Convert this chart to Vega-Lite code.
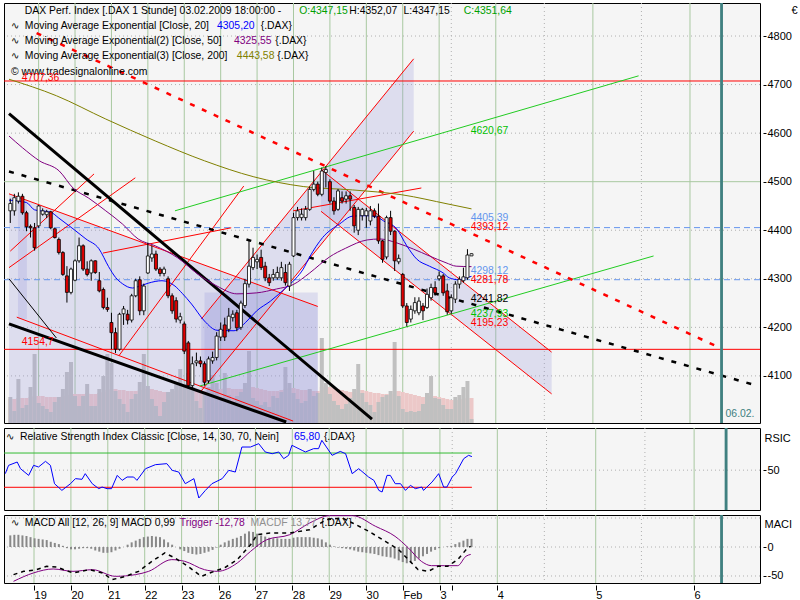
{
"$schema":"https://vega.github.io/schema/vega-lite/v6.json",
"background":"#ffffff",
"padding":{"left":2,"top":2,"right":0,"bottom":0},
"spacing":3,
"config":{
 "view":{"fill":"#f5f5f5","stroke":"#000000","strokeWidth":1},
 "font":"Liberation Sans"
},
"datasets":{
"c":[
{"x":0,"o":4440,"h":4465,"l":4415,"c":4455,"v":26,"a":24,"m":20},
{"x":1,"o":4440,"h":4475,"l":4430,"c":4467,"v":12,"a":24,"m":21},
{"x":2,"o":4460,"h":4478,"l":4455,"c":4470,"v":44,"a":25,"m":21},
{"x":3,"o":4470,"h":4475,"l":4432,"c":4436,"v":15,"a":25,"m":20},
{"x":4,"o":4436,"h":4440,"l":4398,"c":4407,"v":18,"a":25,"m":19},
{"x":5,"o":4408,"h":4412,"l":4385,"c":4405,"v":36,"a":26,"m":17},
{"x":6,"o":4405,"h":4415,"l":4358,"c":4364,"v":69,"a":27,"m":15},
{"x":7,"o":4409,"h":4452,"l":4405,"c":4450,"v":20,"a":27,"m":14},
{"x":8,"o":4433,"h":4445,"l":4430,"c":4440,"v":17,"a":27,"m":13},
{"x":9,"o":4432,"h":4442,"l":4425,"c":4438,"v":14,"a":26,"m":12},
{"x":10,"o":4438,"h":4440,"l":4402,"c":4405,"v":11,"a":26,"m":9},
{"x":11,"o":4403,"h":4405,"l":4383,"c":4385,"v":21,"a":26,"m":7},
{"x":12,"o":4381,"h":4385,"l":4350,"c":4354,"v":26,"a":26,"m":5},
{"x":13,"o":4354,"h":4357,"l":4306,"c":4309,"v":34,"a":27,"m":2},
{"x":14,"o":4306,"h":4326,"l":4251,"c":4272,"v":51,"a":28,"m":-2},
{"x":15,"o":4272,"h":4323,"l":4268,"c":4320,"v":61,"a":29,"m":-4},
{"x":16,"o":4297,"h":4340,"l":4295,"c":4337,"v":27,"a":29,"m":-4},
{"x":17,"o":4337,"h":4385,"l":4333,"c":4368,"v":17,"a":29,"m":-3},
{"x":18,"o":4368,"h":4371,"l":4316,"c":4320,"v":27,"a":29,"m":-2},
{"x":19,"o":4320,"h":4336,"l":4305,"c":4309,"v":39,"a":30,"m":-2},
{"x":20,"o":4312,"h":4340,"l":4296,"c":4337,"v":17,"a":29,"m":-3},
{"x":21,"o":4337,"h":4338,"l":4310,"c":4313,"v":17,"a":29,"m":-6},
{"x":22,"o":4296,"h":4314,"l":4272,"c":4275,"v":34,"a":30,"m":-8},
{"x":23,"o":4278,"h":4282,"l":4237,"c":4241,"v":47,"a":31,"m":-10},
{"x":24,"o":4241,"h":4261,"l":4232,"c":4237,"v":69,"a":33,"m":-10},
{"x":25,"o":4210,"h":4230,"l":4155,"c":4189,"v":60,"a":34,"m":-9},
{"x":26,"o":4189,"h":4199,"l":4147,"c":4155,"v":32,"a":34,"m":-6},
{"x":27,"o":4155,"h":4230,"l":4152,"c":4227,"v":24,"a":33,"m":-3},
{"x":28,"o":4228,"h":4244,"l":4205,"c":4238,"v":19,"a":33,"m":0},
{"x":29,"o":4227,"h":4236,"l":4206,"c":4215,"v":11,"a":32,"m":4},
{"x":30,"o":4215,"h":4269,"l":4210,"c":4265,"v":24,"a":32,"m":8},
{"x":31,"o":4265,"h":4300,"l":4262,"c":4296,"v":29,"a":32,"m":11},
{"x":32,"o":4298,"h":4305,"l":4225,"c":4234,"v":41,"a":33,"m":14},
{"x":33,"o":4234,"h":4290,"l":4225,"c":4285,"v":69,"a":34,"m":17},
{"x":34,"o":4312,"h":4374,"l":4310,"c":4347,"v":37,"a":34,"m":18},
{"x":35,"o":4343,"h":4369,"l":4335,"c":4351,"v":24,"a":34,"m":19},
{"x":36,"o":4351,"h":4358,"l":4316,"c":4320,"v":17,"a":33,"m":18},
{"x":37,"o":4320,"h":4324,"l":4305,"c":4311,"v":7,"a":32,"m":17},
{"x":38,"o":4311,"h":4325,"l":4305,"c":4320,"v":21,"a":31,"m":13},
{"x":39,"o":4300,"h":4305,"l":4260,"c":4265,"v":31,"a":31,"m":8},
{"x":40,"o":4265,"h":4270,"l":4228,"c":4234,"v":34,"a":31,"m":4},
{"x":41,"o":4255,"h":4262,"l":4210,"c":4217,"v":39,"a":32,"m":0},
{"x":42,"o":4215,"h":4230,"l":4208,"c":4222,"v":54,"a":33,"m":-4},
{"x":43,"o":4207,"h":4212,"l":4145,"c":4151,"v":39,"a":33,"m":-7},
{"x":44,"o":4168,"h":4172,"l":4074,"c":4080,"v":50,"a":34,"m":-10},
{"x":45,"o":4080,"h":4140,"l":4075,"c":4125,"v":36,"a":34,"m":-12},
{"x":46,"o":4127,"h":4148,"l":4120,"c":4131,"v":22,"a":33,"m":-13},
{"x":47,"o":4131,"h":4140,"l":4118,"c":4125,"v":15,"a":33,"m":-12},
{"x":48,"o":4125,"h":4130,"l":4080,"c":4087,"v":30,"a":32,"m":-10},
{"x":49,"o":4090,"h":4140,"l":4085,"c":4135,"v":36,"a":33,"m":-8},
{"x":50,"o":4131,"h":4150,"l":4125,"c":4138,"v":48,"a":33,"m":-5},
{"x":51,"o":4138,"h":4190,"l":4132,"c":4182,"v":40,"a":34,"m":-1},
{"x":52,"o":4180,"h":4210,"l":4172,"c":4196,"v":25,"a":34,"m":4},
{"x":53,"o":4205,"h":4220,"l":4172,"c":4180,"v":50,"a":35,"m":8},
{"x":54,"o":4196,"h":4240,"l":4190,"c":4223,"v":28,"a":35,"m":11},
{"x":55,"o":4220,"h":4235,"l":4212,"c":4227,"v":20,"a":34,"m":14},
{"x":56,"o":4230,"h":4236,"l":4192,"c":4199,"v":27,"a":34,"m":16},
{"x":57,"o":4200,"h":4255,"l":4195,"c":4250,"v":31,"a":34,"m":19},
{"x":58,"o":4245,"h":4300,"l":4240,"c":4290,"v":40,"a":35,"m":23},
{"x":59,"o":4289,"h":4378,"l":4282,"c":4326,"v":72,"a":37,"m":27},
{"x":60,"o":4323,"h":4364,"l":4318,"c":4344,"v":25,"a":36,"m":26},
{"x":61,"o":4335,"h":4350,"l":4320,"c":4340,"v":22,"a":35,"m":23},
{"x":62,"o":4344,"h":4360,"l":4318,"c":4323,"v":18,"a":34,"m":20},
{"x":63,"o":4326,"h":4335,"l":4295,"c":4302,"v":21,"a":33,"m":18},
{"x":64,"o":4302,"h":4310,"l":4285,"c":4292,"v":16,"a":32,"m":16},
{"x":65,"o":4302,"h":4320,"l":4296,"c":4309,"v":27,"a":32,"m":15},
{"x":66,"o":4302,"h":4325,"l":4298,"c":4313,"v":25,"a":32,"m":15},
{"x":67,"o":4302,"h":4335,"l":4296,"c":4323,"v":31,"a":33,"m":14},
{"x":68,"o":4313,"h":4330,"l":4286,"c":4292,"v":56,"a":34,"m":14},
{"x":69,"o":4285,"h":4335,"l":4275,"c":4330,"v":40,"a":35,"m":14},
{"x":70,"o":4347,"h":4436,"l":4345,"c":4426,"v":30,"a":35,"m":16},
{"x":71,"o":4426,"h":4448,"l":4420,"c":4440,"v":24,"a":34,"m":17},
{"x":72,"o":4426,"h":4445,"l":4420,"c":4433,"v":20,"a":33,"m":17},
{"x":73,"o":4426,"h":4450,"l":4420,"c":4443,"v":22,"a":33,"m":17},
{"x":74,"o":4443,"h":4490,"l":4440,"c":4484,"v":34,"a":33,"m":17},
{"x":75,"o":4484,"h":4522,"l":4480,"c":4495,"v":27,"a":32,"m":16},
{"x":76,"o":4495,"h":4500,"l":4470,"c":4474,"v":30,"a":32,"m":15},
{"x":77,"o":4474,"h":4529,"l":4470,"c":4522,"v":85,"a":36,"m":13},
{"x":78,"o":4519,"h":4532,"l":4488,"c":4525,"v":40,"a":37,"m":8},
{"x":79,"o":4500,"h":4505,"l":4455,"c":4460,"v":29,"a":36,"m":4},
{"x":80,"o":4460,"h":4468,"l":4432,"c":4440,"v":22,"a":35,"m":1},
{"x":81,"o":4443,"h":4485,"l":4440,"c":4481,"v":18,"a":34,"m":-1},
{"x":82,"o":4467,"h":4480,"l":4455,"c":4460,"v":14,"a":33,"m":-2},
{"x":83,"o":4464,"h":4480,"l":4455,"c":4471,"v":19,"a":32,"m":-3},
{"x":84,"o":4471,"h":4480,"l":4440,"c":4464,"v":25,"a":31,"m":-4},
{"x":85,"o":4447,"h":4452,"l":4395,"c":4409,"v":34,"a":31,"m":-6},
{"x":86,"o":4400,"h":4448,"l":4390,"c":4443,"v":59,"a":33,"m":-8},
{"x":87,"o":4430,"h":4446,"l":4420,"c":4443,"v":30,"a":33,"m":-9},
{"x":88,"o":4430,"h":4446,"l":4405,"c":4440,"v":21,"a":32,"m":-10},
{"x":89,"o":4419,"h":4450,"l":4410,"c":4440,"v":18,"a":31,"m":-11},
{"x":90,"o":4440,"h":4445,"l":4425,"c":4429,"v":11,"a":30,"m":-12},
{"x":91,"o":4429,"h":4455,"l":4372,"c":4378,"v":21,"a":30,"m":-14},
{"x":92,"o":4378,"h":4380,"l":4333,"c":4340,"v":26,"a":29,"m":-16},
{"x":93,"o":4345,"h":4430,"l":4340,"c":4426,"v":28,"a":29,"m":-17},
{"x":94,"o":4426,"h":4440,"l":4390,"c":4398,"v":32,"a":29,"m":-18},
{"x":95,"o":4398,"h":4400,"l":4316,"c":4337,"v":81,"a":32,"m":-20},
{"x":96,"o":4335,"h":4350,"l":4330,"c":4342,"v":27,"a":32,"m":-23},
{"x":97,"o":4309,"h":4312,"l":4240,"c":4244,"v":14,"a":31,"m":-26},
{"x":98,"o":4244,"h":4250,"l":4202,"c":4210,"v":11,"a":30,"m":-28},
{"x":99,"o":4217,"h":4245,"l":4210,"c":4237,"v":12,"a":29,"m":-27},
{"x":100,"o":4234,"h":4262,"l":4228,"c":4251,"v":11,"a":28,"m":-24},
{"x":101,"o":4230,"h":4262,"l":4225,"c":4254,"v":12,"a":27,"m":-20},
{"x":102,"o":4244,"h":4250,"l":4215,"c":4234,"v":19,"a":26,"m":-16},
{"x":103,"o":4241,"h":4280,"l":4238,"c":4268,"v":30,"a":26,"m":-12},
{"x":104,"o":4261,"h":4290,"l":4255,"c":4282,"v":47,"a":27,"m":-8},
{"x":105,"o":4282,"h":4295,"l":4265,"c":4271,"v":25,"a":27,"m":-5},
{"x":106,"o":4300,"h":4315,"l":4296,"c":4306,"v":24,"a":26,"m":-2},
{"x":107,"o":4306,"h":4310,"l":4265,"c":4271,"v":18,"a":25,"m":0},
{"x":108,"o":4275,"h":4290,"l":4226,"c":4232,"v":14,"a":24,"m":1},
{"x":109,"o":4234,"h":4268,"l":4228,"c":4261,"v":14,"a":23,"m":2},
{"x":110,"o":4258,"h":4295,"l":4250,"c":4289,"v":26,"a":23,"m":5},
{"x":111,"o":4289,"h":4305,"l":4280,"c":4299,"v":28,"a":23,"m":8},
{"x":112,"o":4296,"h":4323,"l":4292,"c":4304,"v":36,"a":24,"m":11},
{"x":113,"o":4302,"h":4361,"l":4298,"c":4349,"v":42,"a":25,"m":14},
{"x":114,"o":4347.15,"h":4352.07,"l":4347.15,"c":4351.64,"v":4,"a":25,"m":14}
],
"ema":[
{"s":"e20","x":-0.32,"p":4462},{"s":"e20","x":4,"p":4457},{"s":"e20","x":6,"p":4442},{"s":"e20","x":10,"p":4437},{"s":"e20","x":12,"p":4425},{"s":"e20","x":15.5,"p":4403},{"s":"e20","x":18.7,"p":4382},{"s":"e20","x":21.9,"p":4362},{"s":"e20","x":24.3,"p":4325},{"s":"e20","x":26,"p":4303},{"s":"e20","x":27.7,"p":4290},{"s":"e20","x":30.2,"p":4281},{"s":"e20","x":32,"p":4285},{"s":"e20","x":34.1,"p":4291},{"s":"e20","x":37.5,"p":4296},{"s":"e20","x":40.7,"p":4285},{"s":"e20","x":42.5,"p":4270},{"s":"e20","x":44.8,"p":4248},{"s":"e20","x":48,"p":4213},{"s":"e20","x":51.1,"p":4194},{"s":"e20","x":55.3,"p":4193},{"s":"e20","x":58.5,"p":4213},{"s":"e20","x":60.9,"p":4234},{"s":"e20","x":64.3,"p":4254},{"s":"e20","x":68.2,"p":4282},{"s":"e20","x":70.5,"p":4300},{"s":"e20","x":72.4,"p":4320},{"s":"e20","x":74,"p":4345},{"s":"e20","x":77.2,"p":4385},{"s":"e20","x":81.4,"p":4413},{"s":"e20","x":84.6,"p":4429},{"s":"e20","x":88,"p":4430},{"s":"e20","x":90.7,"p":4427},{"s":"e20","x":92.3,"p":4419},{"s":"e20","x":95.5,"p":4403},{"s":"e20","x":98,"p":4368},{"s":"e20","x":100.4,"p":4341},{"s":"e20","x":103.6,"p":4326},{"s":"e20","x":107,"p":4312},{"s":"e20","x":108.5,"p":4302},{"s":"e20","x":110.9,"p":4298},{"s":"e20","x":112.6,"p":4302},{"s":"e20","x":114,"p":4305},
{"s":"e50","x":-0.32,"p":4594},{"s":"e50","x":3,"p":4570},{"s":"e50","x":7.2,"p":4543},{"s":"e50","x":12.1,"p":4522},{"s":"e50","x":15.5,"p":4487},{"s":"e50","x":19.4,"p":4466},{"s":"e50","x":23.6,"p":4440},{"s":"e50","x":27.7,"p":4413},{"s":"e50","x":31.6,"p":4382},{"s":"e50","x":35.8,"p":4368},{"s":"e50","x":41.4,"p":4343},{"s":"e50","x":46.3,"p":4310},{"s":"e50","x":51.1,"p":4285},{"s":"e50","x":56,"p":4269},{"s":"e50","x":60.9,"p":4271},{"s":"e50","x":65.8,"p":4279},{"s":"e50","x":69.9,"p":4288},{"s":"e50","x":74,"p":4312},{"s":"e50","x":78.9,"p":4345},{"s":"e50","x":82.9,"p":4363},{"s":"e50","x":88.2,"p":4380},{"s":"e50","x":91.4,"p":4382},{"s":"e50","x":95.5,"p":4374},{"s":"e50","x":99.7,"p":4361},{"s":"e50","x":103.6,"p":4347},{"s":"e50","x":107.7,"p":4333},{"s":"e50","x":110.2,"p":4326},{"s":"e50","x":114,"p":4325},
{"s":"e200","x":-0.32,"p":4711},{"s":"e200","x":11.4,"p":4677},{"s":"e200","x":23.6,"p":4629},{"s":"e200","x":35.8,"p":4584},{"s":"e200","x":48,"p":4543},{"s":"e200","x":60.2,"p":4510},{"s":"e200","x":72.4,"p":4490},{"s":"e200","x":84.6,"p":4483},{"s":"e200","x":96.8,"p":4473},{"s":"e200","x":108.2,"p":4454},{"s":"e200","x":114,"p":4444}
],
"tl":[
{"id":"R1","k":"r","x":-0.32,"p":4475},{"id":"R1","k":"r","x":76,"p":4243},
{"id":"R2","k":"r","x":1.6,"p":4221},{"id":"R2","k":"r","x":69.9,"p":4007},
{"id":"R3","k":"r","x":-0.32,"p":4323},{"id":"R3","k":"r","x":30.9,"p":4508},
{"id":"R4","k":"r","x":0,"p":4357},{"id":"R4","k":"r","x":20.7,"p":4516},
{"id":"R5","k":"r","x":26.8,"p":4141},{"id":"R5","k":"r","x":57.7,"p":4491},
{"id":"R6","k":"r","x":22.9,"p":4353},{"id":"R6","k":"r","x":54.6,"p":4405},
{"id":"U1","k":"r","x":47.2,"p":4217},{"id":"U1","k":"r","x":99.7,"p":4753},
{"id":"L1","k":"r","x":47.2,"p":4069},{"id":"L1","k":"r","x":99.7,"p":4604},
{"id":"DU","k":"r","x":76.8,"p":4525},{"id":"DU","k":"r","x":133.8,"p":4149},
{"id":"DL","k":"r","x":76.8,"p":4439},{"id":"DL","k":"r","x":133.8,"p":4063},
{"id":"R9","k":"r","x":69.9,"p":4440},{"id":"R9","k":"r","x":101.6,"p":4487},
{"id":"BA","k":"bt","x":-0.32,"p":4640},{"id":"BA","k":"bt","x":89.4,"p":4011},
{"id":"BB","k":"bt","x":-0.32,"p":4207},{"id":"BB","k":"bt","x":68.2,"p":4005},
{"id":"B1","k":"b","x":-0.32,"p":4300},{"id":"B1","k":"b","x":11.4,"p":4178},
{"id":"G1","k":"g","x":40.7,"p":4440},{"id":"G1","k":"g","x":155.3,"p":4718},
{"id":"G2","k":"g","x":46.8,"p":4079},{"id":"G2","k":"g","x":159,"p":4347},
{"id":"RD","k":"rd","x":6.5,"p":4806},{"id":"RD","k":"rd","x":174.3,"p":4162},
{"id":"BD","k":"bd","x":-0.32,"p":4521},{"id":"BD","k":"bd","x":184.07,"p":4081}
],
"bands":[
{"b":"A","x":-0.32,"hi":4475,"lo":4003},{"b":"A","x":76,"hi":4243,"lo":4003},
{"b":"B","x":47.2,"hi":4217,"lo":4069},{"b":"B","x":99.7,"hi":4753,"lo":4604},
{"b":"C","x":76.8,"hi":4525,"lo":4439},{"b":"C","x":133.8,"hi":4149,"lo":4063}
],
"rects":[{"x":48,"x2":76,"y":4272,"y2":4003},{"x":1.9,"x2":4.1,"y":4460,"y2":4217}],
"hl":[{"p":4707.36,"k":"s"},{"p":4154.7,"k":"s"},{"p":4405.39,"k":"r"},{"p":4298.12,"k":"r"}],
"vg":[{"x":7,"k":"d"},{"x":16,"k":"d"},{"x":25,"k":"d"},{"x":34,"k":"d"},{"x":43,"k":"d"},{"x":52,"k":"d"},{"x":61,"k":"d"},{"x":70,"k":"d"},{"x":79,"k":"d"},{"x":88,"k":"d"},{"x":97,"k":"d"},{"x":106,"k":"d"},{"x":120,"k":"d"},{"x":144,"k":"d"},{"x":168,"k":"d"},{"x":109,"k":"n"},{"x":132,"k":"n"},{"x":156,"k":"n"}],
"now":[{"x":175.45,"x2":176.15}],
"hg":[{"p":4100,"k":"n"},{"p":4200,"k":"n"},{"p":4300,"k":"n"},{"p":4400,"k":"n"},{"p":4600,"k":"n"},{"p":4700,"k":"n"},{"p":4800,"k":"n"},{"p":4500,"k":"g"}],
"rsi":[
{"x":0,"r":45.9},{"x":0.8,"r":55.6},{"x":2.9,"r":59.5},{"x":3.7,"r":51.7},{"x":5.7,"r":43.9},{"x":6.9,"r":55.6},{"x":8.1,"r":53.7},{"x":9.8,"r":60.3},{"x":11,"r":55.6},{"x":12,"r":34.2},{"x":13.8,"r":26.4},{"x":15.9,"r":34.2},{"x":17.1,"r":40.1},{"x":18.7,"r":39.3},{"x":19.5,"r":45.9},{"x":21.2,"r":34.2},{"x":22.8,"r":28.4},{"x":23.6,"r":30.3},{"x":24.8,"r":28.4},{"x":25.9,"r":28.4},{"x":27.3,"r":43.9},{"x":28.5,"r":38.1},{"x":29.7,"r":42},{"x":31.3,"r":42},{"x":32.1,"r":38.1},{"x":34.2,"r":51.7},{"x":36.6,"r":56.4},{"x":39.4,"r":57.6},{"x":40.7,"r":49.8},{"x":42.3,"r":47.8},{"x":43.9,"r":34.2},{"x":46,"r":40.1},{"x":47.2,"r":17.5},{"x":48.8,"r":26.4},{"x":50.4,"r":34.2},{"x":52.9,"r":40.1},{"x":54.5,"r":49.8},{"x":56.1,"r":47.8},{"x":57.7,"r":77},{"x":59.8,"r":77},{"x":61.8,"r":80.9},{"x":63.4,"r":71.2},{"x":65.1,"r":69.2},{"x":66.7,"r":71.2},{"x":67.9,"r":63.4},{"x":69.1,"r":67.3},{"x":69.9,"r":79},{"x":72.4,"r":73.1},{"x":73.2,"r":71.2},{"x":75.2,"r":75.1},{"x":76.4,"r":75.1},{"x":77.2,"r":84.8},{"x":79.7,"r":67.3},{"x":81.7,"r":71.9},{"x":83,"r":69.2},{"x":84.6,"r":45.9},{"x":86.2,"r":51.7},{"x":88.6,"r":42},{"x":89.9,"r":38.1},{"x":91.1,"r":26.4},{"x":91.9,"r":24.5},{"x":93.1,"r":43.9},{"x":93.9,"r":43.9},{"x":95.1,"r":34.2},{"x":96.4,"r":34.2},{"x":97.6,"r":26.4},{"x":98.8,"r":32.3},{"x":100,"r":28.4},{"x":101.6,"r":30.3},{"x":102,"r":26.4},{"x":104.1,"r":36.2},{"x":105.7,"r":45.9},{"x":106.9,"r":30.3},{"x":107.7,"r":30.3},{"x":109,"r":42},{"x":109.8,"r":45.9},{"x":111.8,"r":63.4},{"x":113,"r":67.3},{"x":113.8,"r":65.8}
],
"rl":[{"x":-0.32,"x2":113.8,"y":70,"k":"ob"},{"x":-0.32,"x2":113.8,"y":30,"k":"os"}],
"mg":[{"v":0},{"v":-50},{"v":50}],
"macd":[
{"s":"m","x":0.8,"v":-47.7},{"s":"m","x":3.3,"v":-42},{"s":"m","x":6.5,"v":-39.1},{"s":"m","x":9,"v":-33.3},{"s":"m","x":11.4,"v":-34.5},{"s":"m","x":15.5,"v":-44.8},{"s":"m","x":19.5,"v":-39.1},{"s":"m","x":22.8,"v":-44.8},{"s":"m","x":25.2,"v":-56.3},{"s":"m","x":28.5,"v":-50.6},{"s":"m","x":31.7,"v":-42},{"s":"m","x":35,"v":-24.7},{"s":"m","x":38.2,"v":-10.3},{"s":"m","x":40.7,"v":-19},{"s":"m","x":43.9,"v":-33.3},{"s":"m","x":47.2,"v":-50.6},{"s":"m","x":50.4,"v":-42},{"s":"m","x":52.9,"v":-36.2},{"s":"m","x":56.1,"v":-21.8},{"s":"m","x":59.4,"v":4},{"s":"m","x":61,"v":21.3},{"s":"m","x":64.2,"v":24.1},{"s":"m","x":69.1,"v":24.1},{"s":"m","x":74,"v":29.9},{"s":"m","x":78.1,"v":47.1},{"s":"m","x":82.1,"v":50},{"s":"m","x":84.6,"v":41.4},{"s":"m","x":88.6,"v":27},{"s":"m","x":92.7,"v":9.8},{"s":"m","x":96,"v":-4.6},{"s":"m","x":98.4,"v":-21.8},{"s":"m","x":100.8,"v":-39.1},{"s":"m","x":103.3,"v":-42},{"s":"m","x":105.7,"v":-33.3},{"s":"m","x":108.1,"v":-33.3},{"s":"m","x":110.6,"v":-21.8},{"s":"m","x":113,"v":-1.7},{"s":"m","x":113.8,"v":1},
{"s":"t","x":0.8,"v":-59.2},{"s":"t","x":5.7,"v":-44.8},{"s":"t","x":10.6,"v":-37.9},{"s":"t","x":15.5,"v":-42},{"s":"t","x":20.3,"v":-39.1},{"s":"t","x":26,"v":-50.6},{"s":"t","x":30.9,"v":-47.7},{"s":"t","x":34.2,"v":-42},{"s":"t","x":39.9,"v":-21.8},{"s":"t","x":43.1,"v":-24.7},{"s":"t","x":48,"v":-39.1},{"s":"t","x":51.2,"v":-42},{"s":"t","x":56.1,"v":-27.6},{"s":"t","x":59.4,"v":-7.5},{"s":"t","x":63.4,"v":12.6},{"s":"t","x":69.1,"v":21.3},{"s":"t","x":74,"v":41.4},{"s":"t","x":78.9,"v":54},{"s":"t","x":84.6,"v":54},{"s":"t","x":90.3,"v":35.6},{"s":"t","x":95.1,"v":18.4},{"s":"t","x":98.4,"v":-1.7},{"s":"t","x":101.6,"v":-24.7},{"s":"t","x":104.1,"v":-32.2},{"s":"t","x":107.3,"v":-32.2},{"s":"t","x":110.6,"v":-32.2},{"s":"t","x":112.6,"v":-16.1},{"s":"t","x":113.8,"v":-12.8}
],
"tx":[
{"x":3.59,"y":4851.5,"t":"DAX Perf. Index [.DAX  1 Stunde] 03.02.2009 18:00:00 -","g":"plain"},
{"x":71.4,"y":4851.5,"t":"O:4347,15","g":"ohlc"},
{"x":83.8,"y":4851.5,"t":"H:4352,07","g":"plain"},
{"x":97.2,"y":4851.5,"t":"L:4347,15","g":"plain"},
{"x":112.1,"y":4851.5,"t":"C:4351,64","g":"ohlc"},
{"x":0.17,"y":4820.6,"t":"∿","g":"plain"},
{"x":3.59,"y":4820.6,"t":"Moving Average Exponential [Close, 20]","g":"plain"},
{"x":51.1,"y":4820.6,"t":"4305,20","g":"ema20"},
{"x":61.9,"y":4820.6,"t":"{.DAX}","g":"plain"},
{"x":0.17,"y":4789.7,"t":"∿","g":"plain"},
{"x":3.59,"y":4789.7,"t":"Moving Average Exponential(2) [Close, 50]","g":"plain"},
{"x":55.3,"y":4789.7,"t":"4325,55","g":"ema50"},
{"x":65.5,"y":4789.7,"t":"{.DAX}","g":"plain"},
{"x":0.17,"y":4758.8,"t":"∿","g":"plain"},
{"x":3.59,"y":4758.8,"t":"Moving Average Exponential(3) [Close, 200]","g":"plain"},
{"x":56,"y":4758.8,"t":"4443,58","g":"ema200"},
{"x":66,"y":4758.8,"t":"{.DAX}","g":"plain"},
{"x":0.17,"y":4725.9,"t":"© www.tradesignalonline.com","g":"plain"},
{"x":2.85,"y":4713.5,"t":"4707,36","g":"red"},
{"x":2.85,"y":4170,"t":"4154,7","g":"red"},
{"x":113.8,"y":4604,"t":"4620,67","g":"green"},
{"x":113.8,"y":4425,"t":"4405,39","g":"lblue"},
{"x":113.8,"y":4407,"t":"4393,12","g":"red"},
{"x":113.8,"y":4316,"t":"4298,12","g":"lblue"},
{"x":113.8,"y":4298,"t":"4281,78","g":"red"},
{"x":113.8,"y":4259,"t":"4241,82","g":"plain"},
{"x":113.8,"y":4228,"t":"4237,93","g":"green"},
{"x":113.8,"y":4209,"t":"4195,23","g":"red"},
{"x":176.8,"y":4022,"t":"06.02.","g":"teal"}
],
"txr":[
{"x":0.17,"y":88.7,"t":"∿","g":"plain"},
{"x":3.59,"y":88.7,"t":"Relative Strength Index Classic [Close, 14, 30, 70, Nein]","g":"plain"},
{"x":70.4,"y":88.7,"t":"65,80","g":"ema20"},
{"x":77.7,"y":88.7,"t":"{.DAX}","g":"plain"}
],
"txm":[
{"x":0.17,"y":41.4,"t":"∿","g":"plain"},
{"x":3.59,"y":41.4,"t":"MACD All [12, 26, 9] MACD 0,99","g":"plain"},
{"x":41.9,"y":41.4,"t":"Trigger -12,78","g":"ema50"},
{"x":59.4,"y":41.4,"t":"MACDF 13,77","g":"gray"},
{"x":76.8,"y":41.4,"t":"{.DAX}","g":"plain"}
]
},
"vconcat":[
{
"width":756,"height":420,
"resolve":{"scale":{"y":"independent"}},
"layer":[
 {"layer":[
  {"data":{"name":"vg"},"transform":[{"filter":"datum.k == 'd'"}],"mark":{"type":"rule","color":"#a8c8a0","strokeWidth":1},"encoding":{"x":{"field":"x","type":"quantitative","scale":{"domain":[-0.32,184.07],"nice":false,"zero":false},"axis":null}}},
  {"data":{"name":"vg"},"transform":[{"filter":"datum.k == 'n'"}],"mark":{"type":"rule","color":"#b0b0b0","strokeWidth":1,"strokeDash":[1,3]},"encoding":{"x":{"field":"x","type":"quantitative","scale":{"domain":[-0.32,184.07],"nice":false,"zero":false},"axis":null}}},
  {"data":{"name":"hg"},"transform":[{"filter":"datum.k == 'n'"}],"mark":{"type":"rule","color":"#b0b0b0","strokeWidth":1,"strokeDash":[1,3]},"encoding":{"y":{"field":"p","type":"quantitative","scale":{"domain":[4003,4868],"nice":false,"zero":false},"axis":{"orient":"right","values":[4100,4200,4300,4400,4500,4600,4700,4800],"format":"d","tickSize":3,"offset":3,"labelPadding":1,"labelFontSize":11,"labelFont":"Liberation Sans","labelColor":"#000000","tickColor":"#000000","domain":false,"grid":false,"labelFlush":false,"labelOverlap":false,"title":"€","titleAngle":0,"titleAlign":"left","titleBaseline":"top","titleX":28,"titleY":1,"titleFontWeight":"normal","titleFontSize":11,"titleFont":"Liberation Sans"}}}}
 ]},
 {"data":{"name":"c"},"layer":[
  {"mark":{"type":"bar","orient":"vertical","size":4,"color":"#ecc8c8"},"encoding":{"x":{"field":"x","type":"quantitative","scale":{"domain":[-0.32,184.07],"nice":false,"zero":false},"axis":null},"y":{"field":"a","type":"quantitative","scale":{"domain":[0,420],"nice":false,"zero":false},"axis":null},"y2":{"datum":0}}},
  {"mark":{"type":"bar","orient":"vertical","size":4,"color":"#c0c0c0"},"encoding":{"x":{"field":"x","type":"quantitative","scale":{"domain":[-0.32,184.07],"nice":false,"zero":false},"axis":null},"y":{"field":"v","type":"quantitative","scale":{"domain":[0,420],"nice":false,"zero":false},"axis":null},"y2":{"datum":0}}}
 ]},
 {"layer":[
  {"data":{"name":"hg"},"transform":[{"filter":"datum.k == 'g'"}],"mark":{"type":"rule","color":"#a8c8a0","strokeWidth":1},"encoding":{"y":{"field":"p","type":"quantitative","scale":{"domain":[4003,4868],"nice":false,"zero":false},"axis":null}}},
  {"data":{"name":"bands"},"mark":{"type":"area","color":"#9999dd","opacity":0.25},"encoding":{"x":{"field":"x","type":"quantitative","scale":{"domain":[-0.32,184.07],"nice":false,"zero":false},"axis":null},"y":{"field":"hi","type":"quantitative","scale":{"domain":[4003,4868],"nice":false,"zero":false},"axis":null},"y2":{"field":"lo"},"detail":{"field":"b"}}},
  {"data":{"name":"rects"},"mark":{"type":"rect","color":"#9999dd","opacity":0.25},"encoding":{"x":{"field":"x","type":"quantitative","scale":{"domain":[-0.32,184.07],"nice":false,"zero":false},"axis":null},"x2":{"field":"x2"},"y":{"field":"y","type":"quantitative","scale":{"domain":[4003,4868],"nice":false,"zero":false},"axis":null},"y2":{"field":"y2"}}},
  {"data":{"name":"hl"},"transform":[{"filter":"datum.k == 's'"}],"mark":{"type":"rule","color":"#ff0000","strokeWidth":1},"encoding":{"y":{"field":"p","type":"quantitative","scale":{"domain":[4003,4868],"nice":false,"zero":false},"axis":null}}},
  {"data":{"name":"hl"},"transform":[{"filter":"datum.k == 'r'"}],"mark":{"type":"rule","color":"#6495ed","strokeWidth":1,"strokeDash":[6,4]},"encoding":{"y":{"field":"p","type":"quantitative","scale":{"domain":[4003,4868],"nice":false,"zero":false},"axis":null}}},
  {"data":{"name":"tl"},"transform":[{"filter":"datum.k == 'r'"}],"mark":{"type":"line","color":"#ff0000","strokeWidth":1,"clip":true},"encoding":{"x":{"field":"x","type":"quantitative","scale":{"domain":[-0.32,184.07],"nice":false,"zero":false},"axis":null},"y":{"field":"p","type":"quantitative","scale":{"domain":[4003,4868],"nice":false,"zero":false},"axis":null},"detail":{"field":"id"}}},
  {"data":{"name":"tl"},"transform":[{"filter":"datum.k == 'g'"}],"mark":{"type":"line","color":"#22cc22","strokeWidth":1,"clip":true},"encoding":{"x":{"field":"x","type":"quantitative","scale":{"domain":[-0.32,184.07],"nice":false,"zero":false},"axis":null},"y":{"field":"p","type":"quantitative","scale":{"domain":[4003,4868],"nice":false,"zero":false},"axis":null},"detail":{"field":"id"}}},
  {"data":{"name":"tl"},"transform":[{"filter":"datum.k == 'b'"}],"mark":{"type":"line","color":"#000000","strokeWidth":1,"clip":true},"encoding":{"x":{"field":"x","type":"quantitative","scale":{"domain":[-0.32,184.07],"nice":false,"zero":false},"axis":null},"y":{"field":"p","type":"quantitative","scale":{"domain":[4003,4868],"nice":false,"zero":false},"axis":null},"detail":{"field":"id"}}},
  {"data":{"name":"tl"},"transform":[{"filter":"datum.k == 'bt'"}],"mark":{"type":"line","color":"#000000","strokeWidth":3,"clip":true},"encoding":{"x":{"field":"x","type":"quantitative","scale":{"domain":[-0.32,184.07],"nice":false,"zero":false},"axis":null},"y":{"field":"p","type":"quantitative","scale":{"domain":[4003,4868],"nice":false,"zero":false},"axis":null},"detail":{"field":"id"}}},
  {"data":{"name":"tl"},"transform":[{"filter":"datum.k == 'rd'"}],"mark":{"type":"line","color":"#ff0000","strokeWidth":2.5,"strokeDash":[5,8],"clip":true},"encoding":{"x":{"field":"x","type":"quantitative","scale":{"domain":[-0.32,184.07],"nice":false,"zero":false},"axis":null},"y":{"field":"p","type":"quantitative","scale":{"domain":[4003,4868],"nice":false,"zero":false},"axis":null},"detail":{"field":"id"}}},
  {"data":{"name":"tl"},"transform":[{"filter":"datum.k == 'bd'"}],"mark":{"type":"line","color":"#000000","strokeWidth":2.5,"strokeDash":[5,8],"clip":true},"encoding":{"x":{"field":"x","type":"quantitative","scale":{"domain":[-0.32,184.07],"nice":false,"zero":false},"axis":null},"y":{"field":"p","type":"quantitative","scale":{"domain":[4003,4868],"nice":false,"zero":false},"axis":null},"detail":{"field":"id"}}},
  {"data":{"name":"ema"},"transform":[{"filter":"datum.s == 'e200'"}],"mark":{"type":"line","color":"#808000","strokeWidth":1,"interpolate":"monotone","clip":true},"encoding":{"x":{"field":"x","type":"quantitative","scale":{"domain":[-0.32,184.07],"nice":false,"zero":false},"axis":null},"y":{"field":"p","type":"quantitative","scale":{"domain":[4003,4868],"nice":false,"zero":false},"axis":null}}},
  {"data":{"name":"ema"},"transform":[{"filter":"datum.s == 'e50'"}],"mark":{"type":"line","color":"#800080","strokeWidth":1,"interpolate":"monotone","clip":true},"encoding":{"x":{"field":"x","type":"quantitative","scale":{"domain":[-0.32,184.07],"nice":false,"zero":false},"axis":null},"y":{"field":"p","type":"quantitative","scale":{"domain":[4003,4868],"nice":false,"zero":false},"axis":null}}},
  {"data":{"name":"ema"},"transform":[{"filter":"datum.s == 'e20'"}],"mark":{"type":"line","color":"#0000ff","strokeWidth":1,"interpolate":"monotone","clip":true},"encoding":{"x":{"field":"x","type":"quantitative","scale":{"domain":[-0.32,184.07],"nice":false,"zero":false},"axis":null},"y":{"field":"p","type":"quantitative","scale":{"domain":[4003,4868],"nice":false,"zero":false},"axis":null}}},
  {"data":{"name":"c"},"mark":{"type":"rule","color":"#000000","strokeWidth":1},"encoding":{"x":{"field":"x","type":"quantitative","scale":{"domain":[-0.32,184.07],"nice":false,"zero":false},"axis":null},"y":{"field":"l","type":"quantitative","scale":{"domain":[4003,4868],"nice":false,"zero":false},"axis":null},"y2":{"field":"h"}}},
  {"data":{"name":"c"},"mark":{"type":"bar","orient":"vertical","size":3,"stroke":"#000000","strokeWidth":0.8},"encoding":{"x":{"field":"x","type":"quantitative","scale":{"domain":[-0.32,184.07],"nice":false,"zero":false},"axis":null},"y":{"field":"o","type":"quantitative","scale":{"domain":[4003,4868],"nice":false,"zero":false},"axis":null},"y2":{"field":"c"},"fill":{"condition":{"test":"datum.c >= datum.o","value":"#ffffff"},"value":"#e00000"}}},
  {"data":{"name":"tx"},"mark":{"type":"text","align":"left","baseline":"middle","fontSize":10.4,"font":"Liberation Sans"},"encoding":{"x":{"field":"x","type":"quantitative","scale":{"domain":[-0.32,184.07],"nice":false,"zero":false},"axis":null},"y":{"field":"y","type":"quantitative","scale":{"domain":[4003,4868],"nice":false,"zero":false},"axis":null},"text":{"field":"t"},"color":{"field":"g","type":"nominal","scale":{"domain":["plain","ohlc","ema20","ema50","ema200","red","green","lblue","teal","gray"],"range":["#000000","#00a000","#0000ff","#800080","#808000","#ff0000","#00c000","#6495ed","#408080","#909090"]},"legend":null}}},
  {"data":{"name":"now"},"mark":{"type":"rect","color":"#408080"},"encoding":{"x":{"field":"x","type":"quantitative","scale":{"domain":[-0.32,184.07],"nice":false,"zero":false},"axis":null},"x2":{"field":"x2"}}}
 ]}
]
},
{
"width":756,"height":82,
"resolve":{"scale":{"y":"independent"}},
"layer":[
 {"layer":[
  {"data":{"name":"vg"},"transform":[{"filter":"datum.k == 'd'"}],"mark":{"type":"rule","color":"#a8c8a0","strokeWidth":1},"encoding":{"x":{"field":"x","type":"quantitative","scale":{"domain":[-0.32,184.07],"nice":false,"zero":false},"axis":null}}},
  {"data":{"name":"vg"},"transform":[{"filter":"datum.k == 'n'"}],"mark":{"type":"rule","color":"#b0b0b0","strokeWidth":1,"strokeDash":[1,3]},"encoding":{"x":{"field":"x","type":"quantitative","scale":{"domain":[-0.32,184.07],"nice":false,"zero":false},"axis":null}}},
  {"data":{"values":[{"v":50}]},"mark":{"type":"rule","color":"#b0b0b0","strokeWidth":1,"strokeDash":[1,3]},"encoding":{"y":{"field":"v","type":"quantitative","scale":{"domain":[3.5,99.2],"nice":false,"zero":false},"axis":{"orient":"right","values":[50],"tickSize":3,"offset":3,"labelPadding":1,"labelFontSize":11,"labelFont":"Liberation Sans","labelColor":"#000000","tickColor":"#000000","domain":false,"grid":false,"labelFlush":false,"labelOverlap":false,"title":"RSIC","titleAngle":0,"titleAlign":"left","titleBaseline":"top","titleX":1,"titleY":4,"titleFontWeight":"normal","titleFontSize":11,"titleFont":"Liberation Sans"}}}}
 ]},
 {"layer":[
  {"data":{"name":"rl"},"transform":[{"filter":"datum.k == 'ob'"}],"mark":{"type":"rule","color":"#33bb33","strokeWidth":1},"encoding":{"x":{"field":"x","type":"quantitative","scale":{"domain":[-0.32,184.07],"nice":false,"zero":false},"axis":null},"x2":{"field":"x2"},"y":{"field":"y","type":"quantitative","scale":{"domain":[3.5,99.2],"nice":false,"zero":false},"axis":null}}},
  {"data":{"name":"rl"},"transform":[{"filter":"datum.k == 'os'"}],"mark":{"type":"rule","color":"#ff0000","strokeWidth":1},"encoding":{"x":{"field":"x","type":"quantitative","scale":{"domain":[-0.32,184.07],"nice":false,"zero":false},"axis":null},"x2":{"field":"x2"},"y":{"field":"y","type":"quantitative","scale":{"domain":[3.5,99.2],"nice":false,"zero":false},"axis":null}}},
  {"data":{"name":"rsi"},"mark":{"type":"line","color":"#0000ff","strokeWidth":1},"encoding":{"x":{"field":"x","type":"quantitative","scale":{"domain":[-0.32,184.07],"nice":false,"zero":false},"axis":null},"y":{"field":"r","type":"quantitative","scale":{"domain":[3.5,99.2],"nice":false,"zero":false},"axis":null}}},
  {"data":{"name":"txr"},"mark":{"type":"text","align":"left","baseline":"middle","fontSize":10.4,"font":"Liberation Sans"},"encoding":{"x":{"field":"x","type":"quantitative","scale":{"domain":[-0.32,184.07],"nice":false,"zero":false},"axis":null},"y":{"field":"y","type":"quantitative","scale":{"domain":[3.5,99.2],"nice":false,"zero":false},"axis":null},"text":{"field":"t"},"color":{"field":"g","type":"nominal","scale":{"domain":["plain","ohlc","ema20","ema50","ema200","red","green","lblue","teal","gray"],"range":["#000000","#00a000","#0000ff","#800080","#808000","#ff0000","#00c000","#6495ed","#408080","#909090"]},"legend":null}}},
  {"data":{"name":"now"},"mark":{"type":"rect","color":"#408080"},"encoding":{"x":{"field":"x","type":"quantitative","scale":{"domain":[-0.32,184.07],"nice":false,"zero":false},"axis":null},"x2":{"field":"x2"}}}
 ]}
]
},
{
"width":756,"height":68,
"resolve":{"scale":{"x":"independent","y":"independent"}},
"layer":[
 {"layer":[
  {"data":{"name":"vg"},"transform":[{"filter":"datum.k == 'd'"}],"mark":{"type":"rule","color":"#a8c8a0","strokeWidth":1},"encoding":{"x":{"field":"x","type":"quantitative","scale":{"domain":[-0.32,184.07],"nice":false,"zero":false},"axis":{"orient":"bottom","values":[7,16,25,34,43,52,61,70,79,88,97,106,109,120,144,168],"labelExpr":"datum.value == 7 ? '19' : datum.value == 16 ? '20' : datum.value == 25 ? '21' : datum.value == 34 ? '22' : datum.value == 43 ? '23' : datum.value == 52 ? '26' : datum.value == 61 ? '27' : datum.value == 70 ? '28' : datum.value == 79 ? '29' : datum.value == 88 ? '30' : datum.value == 97 ? 'Feb' : datum.value == 106 ? '3' : datum.value == 120 ? '4' : datum.value == 144 ? '5' : datum.value == 168 ? '6' : ''","tickSize":5,"offset":2,"labelPadding":8,"labelBaseline":"alphabetic","labelAlign":"left","labelOffset":0,"labelFontSize":11,"labelFont":"Liberation Sans","labelColor":"#000000","tickColor":"#000000","domain":false,"grid":false,"labelFlush":false,"labelOverlap":false,"title":null}}}},
  {"data":{"name":"mg"},"mark":{"type":"rule","color":"#b0b0b0","strokeWidth":1,"strokeDash":[1,3]},"encoding":{"y":{"field":"v","type":"quantitative","scale":{"domain":[-62.1,55.2],"nice":false,"zero":false},"axis":{"orient":"right","values":[0,-50],"labelExpr":"datum.value == 0 ? '0' : '-50'","tickSize":3,"offset":3,"labelPadding":1,"labelFontSize":11,"labelFont":"Liberation Sans","labelColor":"#000000","tickColor":"#000000","domain":false,"grid":false,"labelFlush":false,"labelOverlap":false,"title":"MACI","titleAngle":0,"titleAlign":"left","titleBaseline":"top","titleX":1,"titleY":3,"titleFontWeight":"normal","titleFontSize":11,"titleFont":"Liberation Sans"}}}}
 ]},
 {"layer":[
  {"data":{"name":"vg"},"transform":[{"filter":"datum.k == 'n'"}],"mark":{"type":"rule","color":"#b0b0b0","strokeWidth":1,"strokeDash":[1,3]},"encoding":{"x":{"field":"x","type":"quantitative","scale":{"domain":[-0.32,184.07],"nice":false,"zero":false},"axis":null}}},
  {"data":{"name":"c"},"mark":{"type":"bar","orient":"vertical","size":2,"color":"#888888"},"encoding":{"x":{"field":"x","type":"quantitative","scale":{"domain":[-0.32,184.07],"nice":false,"zero":false},"axis":null},"y":{"field":"m","type":"quantitative","scale":{"domain":[-62.1,55.2],"nice":false,"zero":false},"axis":null},"y2":{"datum":0}}},
  {"data":{"name":"macd"},"transform":[{"filter":"datum.s == 't'"}],"mark":{"type":"line","color":"#800080","strokeWidth":1,"interpolate":"monotone","clip":true},"encoding":{"x":{"field":"x","type":"quantitative","scale":{"domain":[-0.32,184.07],"nice":false,"zero":false},"axis":null},"y":{"field":"v","type":"quantitative","scale":{"domain":[-62.1,55.2],"nice":false,"zero":false},"axis":null}}},
  {"data":{"name":"macd"},"transform":[{"filter":"datum.s == 'm'"}],"mark":{"type":"line","color":"#000000","strokeWidth":1.5,"strokeDash":[4,4],"clip":true},"encoding":{"x":{"field":"x","type":"quantitative","scale":{"domain":[-0.32,184.07],"nice":false,"zero":false},"axis":null},"y":{"field":"v","type":"quantitative","scale":{"domain":[-62.1,55.2],"nice":false,"zero":false},"axis":null}}},
  {"data":{"name":"txm"},"mark":{"type":"text","align":"left","baseline":"middle","fontSize":10.4,"font":"Liberation Sans"},"encoding":{"x":{"field":"x","type":"quantitative","scale":{"domain":[-0.32,184.07],"nice":false,"zero":false},"axis":null},"y":{"field":"y","type":"quantitative","scale":{"domain":[-62.1,55.2],"nice":false,"zero":false},"axis":null},"text":{"field":"t"},"color":{"field":"g","type":"nominal","scale":{"domain":["plain","ohlc","ema20","ema50","ema200","red","green","lblue","teal","gray"],"range":["#000000","#00a000","#0000ff","#800080","#808000","#ff0000","#00c000","#6495ed","#408080","#909090"]},"legend":null}}},
  {"data":{"name":"now"},"mark":{"type":"rect","color":"#408080"},"encoding":{"x":{"field":"x","type":"quantitative","scale":{"domain":[-0.32,184.07],"nice":false,"zero":false},"axis":null},"x2":{"field":"x2"}}}
 ]}
]
}
]
}
